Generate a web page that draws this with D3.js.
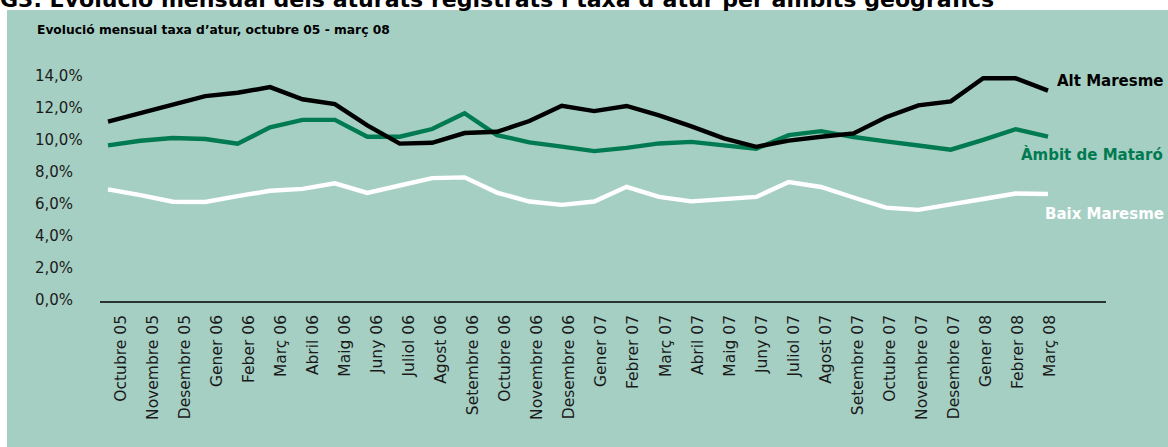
<!DOCTYPE html>
<html>
<head>
<meta charset="utf-8">
<script src="https://cdn.jsdelivr.net/npm/d3@7"></script>
<style>
  body { margin: 0; background: #fff; }
  svg { display: block; font-family: "DejaVu Sans", Verdana, sans-serif; }
</style>
</head>
<body>
<div id="chart"></div>
<script>
// months on the category axis (the original spells "Feber 06")
var months = ["Octubre 05", "Novembre 05", "Desembre 05", "Gener 06", "Feber 06", "Març 06",
    "Abril 06", "Maig 06", "Juny 06", "Juliol 06", "Agost 06", "Setembre 06",
    "Octubre 06", "Novembre 06", "Desembre 06", "Gener 07", "Febrer 07", "Març 07",
    "Abril 07", "Maig 07", "Juny 07", "Juliol 07", "Agost 07", "Setembre 07",
    "Octubre 07", "Novembre 07", "Desembre 07", "Gener 08", "Febrer 08", "Març 08"];

// taxa d'atur (%)
var altMaresme = [11.27, 11.8, 12.33, 12.87, 13.08, 13.43, 12.67, 12.37, 11.04, 9.9,
    9.95, 10.56, 10.64, 11.31, 12.26, 11.93, 12.25, 11.66, 10.98, 10.23,
    9.7, 10.09, 10.33, 10.54, 11.55, 12.29, 12.54, 13.98, 13.98, 13.21];
var ambitMataro = [9.79, 10.08, 10.25, 10.19, 9.89, 10.92, 11.38, 11.38, 10.33, 10.33,
    10.81, 11.8, 10.43, 9.98, 9.71, 9.43, 9.63, 9.91, 10.01, 9.79,
    9.58, 10.43, 10.68, 10.31, 10.04, 9.78, 9.52, 10.13, 10.8, 10.33];
var baixMaresme = [7.04, 6.68, 6.27, 6.25, 6.62, 6.95, 7.07, 7.42, 6.82, 7.28,
    7.74, 7.79, 6.84, 6.28, 6.07, 6.28, 7.2, 6.57, 6.29, 6.43,
    6.57, 7.5, 7.19, 6.53, 5.9, 5.76, 6.1, 6.44, 6.78, 6.75];

var yTicks = [0, 2, 4, 6, 8, 10, 12, 14];

var seriesNames = ["Baix Maresme", "Àmbit de Mataró", "Alt Maresme"];
var seriesColors = ["#ffffff", "#007a50", "#000000"];

var W = 1168, H = 447;

var svg = d3.select("#chart").append("svg")
    .attr("width", W)
    .attr("height", H);

// panel
svg.append("rect")
    .attr("x", 7).attr("y", 10)
    .attr("width", W - 7).attr("height", H - 10)
    .attr("fill", "#a6cfc3");

// title, top half is cut off by the page edge
var title = svg.append("text")
    .attr("x", 0).attr("y", 7)
    .attr("font-weight", "bold")
    .attr("font-size", 20)
    .attr("fill", "#000")
    .text("G3. Evolució mensual dels aturats registrats i taxa d’atur per àmbits geogràfics");
title.attr("font-size", 20 * 995 / title.node().getComputedTextLength());

var sub = svg.append("text")
    .attr("x", 37).attr("y", 34)
    .attr("font-weight", "bold")
    .attr("font-size", 12)
    .attr("fill", "#000")
    .text("Evolució mensual taxa d’atur, octubre 05 - març 08");
sub.attr("font-size", 12 * 353 / sub.node().getComputedTextLength());

// scales
var plotLeft = 100, plotRight = 1106;
var y = d3.scaleLinear().domain([0, 14]).range([302, 78]);
var xLine = d3.scalePoint().domain(months).range([108, 1048]);
var xLab = d3.scalePoint().domain(months).range([120, 1049]);

// y axis, labels left aligned
var yAxis = svg.append("g")
    .attr("transform", "translate(35,0)")
    .call(d3.axisLeft(y).tickValues(yTicks).tickSize(0)
        .tickFormat(function(d) { return d3.format(".1f")(d).replace(".", ",") + "%"; }));
yAxis.select(".domain").remove();
yAxis.selectAll("text")
    .attr("x", 0)
    .attr("y", -2)
    .attr("text-anchor", "start")
    .attr("font-family", "DejaVu Sans, sans-serif")
    .attr("font-size", 15)
    .attr("fill", "#1a1a1a");

// x axis line
svg.append("line")
    .attr("x1", plotLeft).attr("x2", plotRight)
    .attr("y1", y(0)).attr("y2", y(0))
    .attr("stroke", "#000")
    .attr("stroke-width", 1.3);

var xAxis = svg.append("g")
    .attr("transform", "translate(0," + y(0) + ")")
    .call(d3.axisBottom(xLab).tickSize(0));
xAxis.select(".domain").remove();
xAxis.selectAll("text")
    .attr("transform", "rotate(-90)")
    .attr("x", -13)
    .attr("y", 0)
    .attr("dy", "0.35em")
    .attr("text-anchor", "end")
    .attr("font-family", "DejaVu Sans, sans-serif")
    .attr("font-size", 15.5)
    .attr("fill", "#1a1a1a");

// lines
var seriesData = [baixMaresme, ambitMataro, altMaresme];
var line = d3.line()
    .x(function(d, i) { return xLine(months[i]); })
    .y(function(d) { return y(d); });

svg.append("g").selectAll("path")
    .data(seriesData)
    .enter().append("path")
    .attr("d", line)
    .attr("fill", "none")
    .attr("stroke", function(d, i) { return seriesColors[i]; })
    .attr("stroke-width", 4.4);

// series labels
var labelPos = [{x: 1045, y: 219}, {x: 1021, y: 160}, {x: 1057, y: 86}];
svg.append("g").selectAll("text")
    .data(seriesNames)
    .enter().append("text")
    .attr("x", function(d, i) { return labelPos[i].x; })
    .attr("y", function(d, i) { return labelPos[i].y; })
    .attr("font-weight", "bold")
    .attr("font-size", 15)
    .attr("fill", function(d, i) { return seriesColors[i]; })
    .text(function(d) { return d; });
</script>
</body>
</html>
